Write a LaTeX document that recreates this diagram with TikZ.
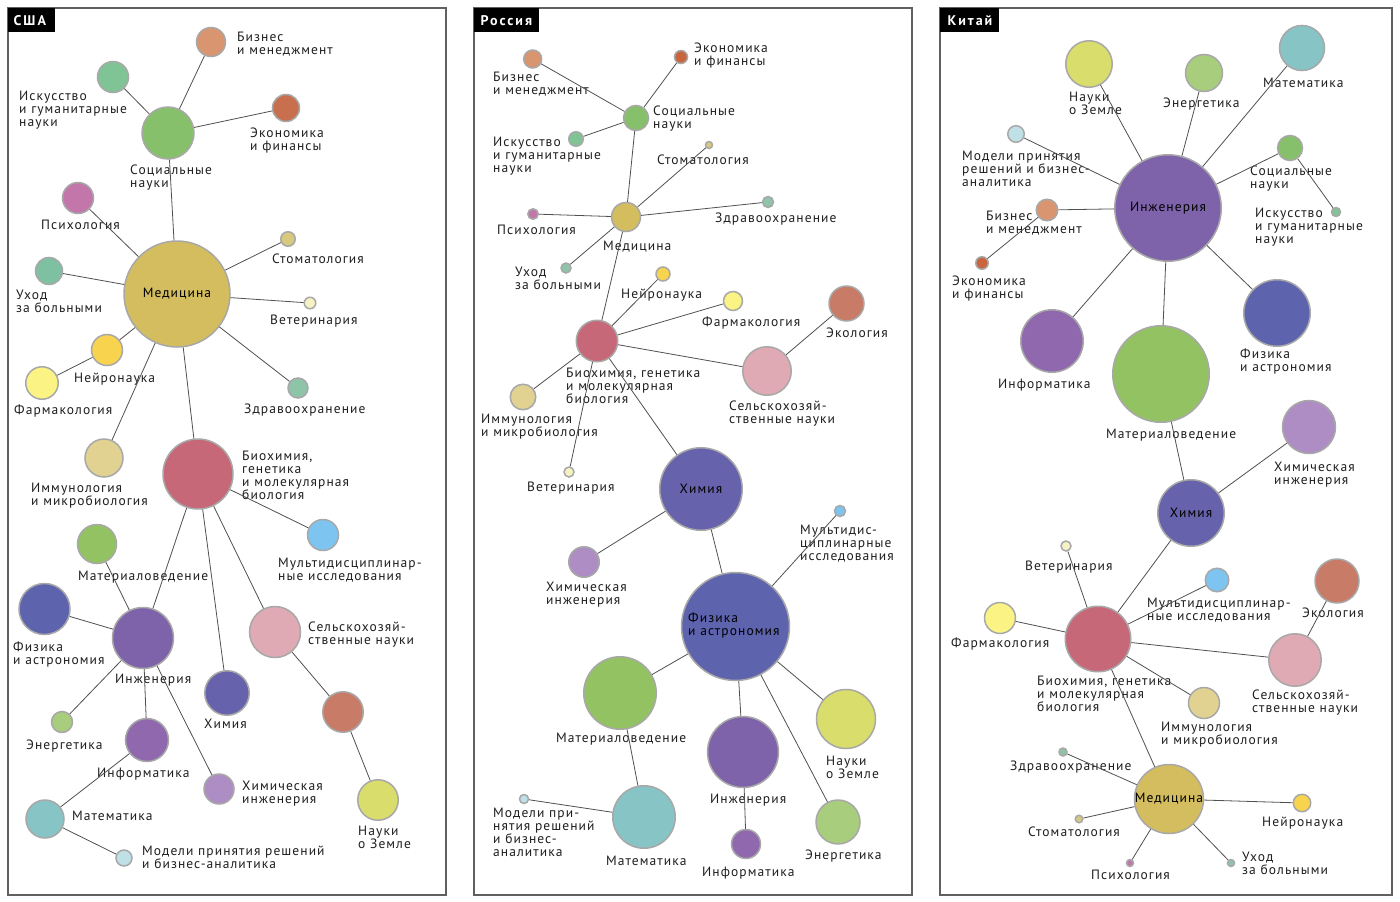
\documentclass[tikz,border=0pt]{standalone}
\usepackage{fontspec}
\setmainfont{PT Sans}[LetterSpace=8]
\definecolor{cBiz}{HTML}{D99470}
\definecolor{cArt}{HTML}{80C394}
\definecolor{cSoc}{HTML}{86C06A}
\definecolor{cEco}{HTML}{C8704E}
\definecolor{cEcoS}{HTML}{C8643E}
\definecolor{cPsy}{HTML}{C276AA}
\definecolor{cMed}{HTML}{D3BD5F}
\definecolor{cDen}{HTML}{D8C97E}
\definecolor{cNur}{HTML}{7DC0A2}
\definecolor{cVet}{HTML}{F6F2C4}
\definecolor{cNeu}{HTML}{F7D34E}
\definecolor{cPha}{HTML}{FBF383}
\definecolor{cHea}{HTML}{8EC4A8}
\definecolor{cImm}{HTML}{E1D291}
\definecolor{cBio}{HTML}{C76878}
\definecolor{cMul}{HTML}{7DC4F0}
\definecolor{cMat}{HTML}{93C262}
\definecolor{cPhy}{HTML}{5E63AE}
\definecolor{cEng}{HTML}{7E62AA}
\definecolor{cChe}{HTML}{6662AC}
\definecolor{cAgr}{HTML}{E0AAB4}
\definecolor{cEcl}{HTML}{C87B66}
\definecolor{cEar}{HTML}{D8DD6B}
\definecolor{cEne}{HTML}{A8CD7C}
\definecolor{cInf}{HTML}{9068AE}
\definecolor{cCen}{HTML}{AE8CC4}
\definecolor{cMth}{HTML}{87C4C6}
\definecolor{cDec}{HTML}{C0E0E8}
\definecolor{cRim}{HTML}{A8A8A8}
\definecolor{cEdge}{HTML}{505050}
\definecolor{cFrame}{HTML}{606060}
\definecolor{cText}{HTML}{1E1E1E}
\begin{document}
\begin{tikzpicture}[x=1pt,y=-1pt,
  bub/.style 2 args={circle,draw=cRim,line width=1.5pt,fill=#1,minimum size=#2,inner sep=0pt},
  edge/.style={draw=cEdge,line width=0.8pt},
  lab/.style={anchor=base west,align=left,inner sep=0pt,text=cText,font=\fontsize{13.5}{13}\selectfont},
  inlab/.style={anchor=center,align=center,inner sep=0pt,text=black,font=\fontsize{13.5}{13}\selectfont},
  frame/.style={draw=cFrame,line width=1.2pt},
  tab/.style={fill=black},
  tabtext/.style={anchor=base west,inner sep=0pt,text=white,font=\bfseries\fontsize{14}{14}\selectfont\addfontfeature{LetterSpace=14}}]
\useasboundingbox (0,0) rectangle (1400,902);
\fill[white] (0,0) rectangle (1400,902);
% frames
\draw[frame] (8,8) rectangle (446,895);
\draw[frame] (474,8) rectangle (912,895);
\draw[frame] (940,8) rectangle (1392,895);
\fill[tab] (8,8) rectangle (55,32);
\fill[tab] (474,8) rectangle (539,32);
\fill[tab] (940,8) rectangle (999,32);
\node[tabtext] (t-a) at (13.5,25) {США};
\node[tabtext] (t-b) at (480.5,25) {Россия};
\node[tabtext] (t-c) at (947.5,25) {Китай};

% ===== Panel 1 labels =====
\node[lab] (la-biz) at (237,54.5) {Бизнес\\и менеджмент};
\node[lab] (la-art) at (19,126.5) {Искусство\\и гуманитарные\\науки};
\node[lab] (la-soc) at (130,187.5) {Социальные\\науки};
\node[lab] (la-eco) at (250,150.5) {Экономика\\и финансы};
\node[lab] (la-psy) at (41,229.5) {Психология};
\node[lab] (la-den) at (272,263.5) {Стоматология};
\node[lab] (la-nur) at (16,312.5) {Уход\\за больными};
\node[lab] (la-vet) at (270,324.5) {Ветеринария};
\node[lab] (la-neu) at (74,382.5) {Нейронаука};
\node[lab] (la-pha) at (14,414.5) {Фармакология};
\node[lab] (la-hea) at (244,413.5) {Здравоохранение};
\node[lab] (la-imm) at (31,505.5) {Иммунология\\и микробиология};
\node[lab] (la-bio) at (242,499.5) {Биохимия,\\генетика\\и молекулярная\\биология};
\node[lab] (la-mul) at (278,580.5) {Мультидисциплинар-\\ные исследования};
\node[lab] (la-mat) at (78,580.5) {Материаловедение};
\node[lab] (la-phy) at (13,664.5) {Физика\\и астрономия};
\node[lab] (la-eng) at (115,683.5) {Инженерия};
\node[lab] (la-che) at (204,728.5) {Химия};
\node[lab] (la-agr) at (308,644.5) {Сельскохозяй-\\ственные науки};
\node[lab] (la-ear) at (358,848.5) {Науки\\о Земле};
\node[lab] (la-ene) at (26,749.5) {Энергетика};
\node[lab] (la-inf) at (97,777.5) {Информатика};
\node[lab] (la-cen) at (242,803.5) {Химическая\\инженерия};
\node[lab] (la-mth) at (72,820.5) {Математика};
\node[lab] (la-dec) at (142,868.5) {Модели принятия решений\\и бизнес-аналитика};

% ===== Panel 2 labels =====
\node[lab] (lb-biz) at (493,94.5) {Бизнес\\и менеджмент};
\node[lab] (lb-eco) at (694,65.5) {Экономика\\и финансы};
\node[lab] (lb-soc) at (653,128.5) {Социальные\\науки};
\node[lab] (lb-art) at (493,172.5) {Искусство\\и гуманитарные\\науки};
\node[lab] (lb-den) at (657,164.5) {Стоматология};
\node[lab] (lb-med) at (603,250.5) {Медицина};
\node[lab] (lb-psy) at (497,234.5) {Психология};
\node[lab] (lb-hea) at (715,222.5) {Здравоохранение};
\node[lab] (lb-nur) at (515,289.5) {Уход\\за больными};
\node[lab] (lb-neu) at (621,298.5) {Нейронаука};
\node[lab] (lb-pha) at (702,326.5) {Фармакология};
\node[lab] (lb-ecl) at (826,337.5) {Экология};
\node[lab] (lb-bio) at (566,403.5) {Биохимия, генетика\\и молекулярная\\биология};
\node[lab] (lb-imm) at (481,436.5) {Иммунология\\и микробиология};
\node[lab] (lb-agr) at (729,423.5) {Сельскохозяй-\\ственные науки};
\node[lab] (lb-vet) at (527,491.5) {Ветеринария};
\node[lab] (lb-mul) at (800,560.5) {Мультидис-\\циплинарные\\исследования};
\node[lab] (lb-cen) at (546,604.5) {Химическая\\инженерия};
\node[lab] (lb-mat) at (556,742.5) {Материаловедение};
\node[lab] (lb-eng) at (710,803.5) {Инженерия};
\node[lab] (lb-ear) at (826,778.5) {Науки\\о Земле};
\node[lab] (lb-mth) at (606,865.5) {Математика};
\node[lab] (lb-dec) at (493,856.5) {Модели при-\\нятия решений\\и бизнес-\\аналитика};
\node[lab] (lb-inf) at (702,876.5) {Информатика};
\node[lab] (lb-ene) at (805,859.5) {Энергетика};

% ===== Panel 3 labels =====
\node[lab] (lc-ear) at (1069,114.5) {Науки\\о Земле};
\node[lab] (lc-ene) at (1163,107.5) {Энергетика};
\node[lab] (lc-mth) at (1263,87.5) {Математика};
\node[lab] (lc-dec) at (962,186.5) {Модели принятия\\решений и бизнес-\\аналитика};
\node[lab] (lc-soc) at (1250,188.5) {Социальные\\науки};
\node[lab] (lc-art) at (1255,243.5) {Искусство\\и гуманитарные\\науки};
\node[lab] (lc-biz) at (986,233.5) {Бизнес\\и менеджмент};
\node[lab] (lc-eco) at (952,298.5) {Экономика\\и финансы};
\node[lab] (lc-inf) at (998,388.5) {Информатика};
\node[lab] (lc-mat) at (1106,438.5) {Материаловедение};
\node[lab] (lc-phy) at (1240,371.5) {Физика\\и астрономия};
\node[lab] (lc-cen) at (1274,484.5) {Химическая\\инженерия};
\node[lab] (lc-vet) at (1025,570.5) {Ветеринария};
\node[lab] (lc-mul) at (1147,620.5) {Мультидисциплинар-\\ные исследования};
\node[lab] (lc-ecl) at (1302,617.5) {Экология};
\node[lab] (lc-pha) at (951,647.5) {Фармакология};
\node[lab] (lc-bio) at (1037,711.5) {Биохимия, генетика\\и молекулярная\\биология};
\node[lab] (lc-agr) at (1252,712.5) {Сельскохозяй-\\ственные науки};
\node[lab] (lc-imm) at (1161,744.5) {Иммунология\\и микробиология};
\node[lab] (lc-hea) at (1010,770.5) {Здравоохранение};
\node[lab] (lc-neu) at (1262,826.5) {Нейронаука};
\node[lab] (lc-den) at (1028,836.5) {Стоматология};
\node[lab] (lc-psy) at (1091,879.5) {Психология};
\node[lab] (lc-nur) at (1242,874.5) {Уход\\за больными};

% ===== Panel 1 bubbles =====
\node[bub={cBiz}{29pt}] (a-biz) at (211,42) {};
\node[bub={cArt}{31pt}] (a-art) at (113,77) {};
\node[bub={cSoc}{52pt}] (a-soc) at (168,133) {};
\node[bub={cEco}{27pt}] (a-eco) at (286,108) {};
\node[bub={cPsy}{31pt}] (a-psy) at (78,198) {};
\node[bub={cMed}{106pt}] (a-med) at (177,294) {};
\node[bub={cDen}{14.5pt}] (a-den) at (288,239) {};
\node[bub={cNur}{27pt}] (a-nur) at (49,271) {};
\node[bub={cVet}{11.5pt}] (a-vet) at (310,303) {};
\node[bub={cNeu}{31pt}] (a-neu) at (107,350) {};
\node[bub={cPha}{32.5pt}] (a-pha) at (42,383) {};
\node[bub={cHea}{20pt}] (a-hea) at (298,388) {};
\node[bub={cImm}{38pt}] (a-imm) at (104,458) {};
\node[bub={cBio}{70pt}] (a-bio) at (198,474) {};
\node[bub={cMul}{31pt}] (a-mul) at (323,535) {};
\node[bub={cMat}{39pt}] (a-mat) at (97,544) {};
\node[bub={cPhy}{51pt}] (a-phy) at (44.5,609) {};
\node[bub={cEng}{61pt}] (a-eng) at (143,638) {};
\node[bub={cChe}{44.5pt}] (a-che) at (227,693) {};
\node[bub={cAgr}{51pt}] (a-agr) at (275,632) {};
\node[bub={cEcl}{40.5pt}] (a-ecl) at (343,712) {};
\node[bub={cEar}{40.5pt}] (a-ear) at (378,800) {};
\node[bub={cEne}{21pt}] (a-ene) at (62,722) {};
\node[bub={cInf}{43pt}] (a-inf) at (147,740) {};
\node[bub={cCen}{30pt}] (a-cen) at (219,789) {};
\node[bub={cMth}{38pt}] (a-mth) at (45,819) {};
\node[bub={cDec}{16pt}] (a-dec) at (124,858) {};
\node[inlab] (la-med) at (a-med) {Медицина};

% ===== Panel 2 bubbles =====
\node[bub={cBiz}{18pt}] (b-biz) at (532.7,59) {};
\node[bub={cEcoS}{13pt}] (b-eco) at (681,57) {};
\node[bub={cSoc}{25pt}] (b-soc) at (636,118) {};
\node[bub={cArt}{14.5pt}] (b-art) at (576,139) {};
\node[bub={cDen}{7pt}] (b-den) at (709,145) {};
\node[bub={cMed}{29pt}] (b-med) at (626,217) {};
\node[bub={cPsy}{10.5pt}] (b-psy) at (533,214) {};
\node[bub={cHea}{11pt}] (b-hea) at (768,202) {};
\node[bub={cHea}{10pt}] (b-nur) at (566,268) {};
\node[bub={cNeu}{14pt}] (b-neu) at (663,274) {};
\node[bub={cPha}{19pt}] (b-pha) at (733,301) {};
\node[bub={cEcl}{35pt}] (b-ecl) at (846.5,303.5) {};
\node[bub={cBio}{41.5pt}] (b-bio) at (597,341) {};
\node[bub={cImm}{25.5pt}] (b-imm) at (523,397) {};
\node[bub={cAgr}{48.5pt}] (b-agr) at (767,371) {};
\node[bub={cVet}{10pt}] (b-vet) at (569,472) {};
\node[bub={cChe}{82.5pt}] (b-che) at (701,489) {};
\node[bub={cMul}{11pt}] (b-mul) at (840,511) {};
\node[bub={cCen}{30.5pt}] (b-cen) at (584,562) {};
\node[bub={cPhy}{108pt}] (b-phy) at (735.5,626.5) {};
\node[bub={cMat}{72.5pt}] (b-mat) at (620,693) {};
\node[bub={cEng}{71pt}] (b-eng) at (743,752) {};
\node[bub={cEar}{59pt}] (b-ear) at (846,719) {};
\node[bub={cMth}{62.5pt}] (b-mth) at (644,817) {};
\node[bub={cDec}{9pt}] (b-dec) at (524,799) {};
\node[bub={cInf}{29pt}] (b-inf) at (746,844) {};
\node[bub={cEne}{44pt}] (b-ene) at (838,822) {};
\node[inlab] (lb-che) at (b-che) {Химия};
\node[lab,text=black] (lb-phy) at (688,635.5) {Физика\\и астрономия};

% ===== Panel 3 bubbles =====
\node[bub={cEar}{46.5pt}] (c-ear) at (1089,64) {};
\node[bub={cEne}{37pt}] (c-ene) at (1204,73) {};
\node[bub={cMth}{45pt}] (c-mth) at (1302,48) {};
\node[bub={cDec}{16.5pt}] (c-dec) at (1016,134) {};
\node[bub={cSoc}{25pt}] (c-soc) at (1290,148) {};
\node[bub={cArt}{9pt}] (c-art) at (1336,212) {};
\node[bub={cEng}{106.5pt}] (c-eng) at (1168,208) {};
\node[bub={cBiz}{21.5pt}] (c-biz) at (1047,210) {};
\node[bub={cEcoS}{12.5pt}] (c-eco) at (982,263) {};
\node[bub={cInf}{62.5pt}] (c-inf) at (1052,341) {};
\node[bub={cMat}{96.5pt}] (c-mat) at (1161,374) {};
\node[bub={cPhy}{66.5pt}] (c-phy) at (1277,313) {};
\node[bub={cCen}{53pt}] (c-cen) at (1309,427) {};
\node[bub={cChe}{66.5pt}] (c-che) at (1191,513) {};
\node[bub={cVet}{10pt}] (c-vet) at (1066,546) {};
\node[bub={cMul}{23.5pt}] (c-mul) at (1217,580) {};
\node[bub={cEcl}{44pt}] (c-ecl) at (1337,581) {};
\node[bub={cPha}{31pt}] (c-pha) at (1000,618) {};
\node[bub={cBio}{65.5pt}] (c-bio) at (1098,639) {};
\node[bub={cAgr}{52.5pt}] (c-agr) at (1295,660) {};
\node[bub={cImm}{31pt}] (c-imm) at (1204,703) {};
\node[bub={cHea}{8pt}] (c-hea) at (1063,752) {};
\node[bub={cMed}{69pt}] (c-med) at (1169,799) {};
\node[bub={cNeu}{17.5pt}] (c-neu) at (1302,803) {};
\node[bub={cDen}{7.5pt}] (c-den) at (1079,819) {};
\node[bub={cPsy}{7pt}] (c-psy) at (1130,863) {};
\node[bub={cHea}{7pt}] (c-nur) at (1231,863) {};
\node[inlab] (lc-eng) at (c-eng) {Инженерия};
\node[inlab] (lc-che) at (c-che) {Химия};
\node[inlab] (lc-med) at (c-med) {Медицина};

% ===== Panel 1 edges =====
\draw[edge] (a-soc) -- (a-biz);
\draw[edge] (a-soc) -- (a-art);
\draw[edge] (a-soc) -- (a-eco);
\draw[edge] (a-soc) -- (a-med);
\draw[edge] (a-med) -- (a-psy);
\draw[edge] (a-med) -- (a-den);
\draw[edge] (a-med) -- (a-nur);
\draw[edge] (a-med) -- (a-vet);
\draw[edge] (a-med) -- (a-neu);
\draw[edge] (a-neu) -- (a-pha);
\draw[edge] (a-med) -- (a-hea);
\draw[edge] (a-med) -- (a-imm);
\draw[edge] (a-med) -- (a-bio);
\draw[edge] (a-bio) -- (a-mul);
\draw[edge] (a-bio) -- (a-eng);
\draw[edge] (a-bio) -- (a-che);
\draw[edge] (a-bio) -- (a-agr);
\draw[edge] (a-agr) -- (a-ecl);
\draw[edge] (a-ecl) -- (a-ear);
\draw[edge] (a-eng) -- (a-mat);
\draw[edge] (a-eng) -- (a-phy);
\draw[edge] (a-eng) -- (a-ene);
\draw[edge] (a-eng) -- (a-inf);
\draw[edge] (a-eng) -- (a-cen);
\draw[edge] (a-inf) -- (a-mth);
\draw[edge] (a-mth) -- (a-dec);

% ===== Panel 2 edges =====
\draw[edge] (b-soc) -- (b-biz);
\draw[edge] (b-soc) -- (b-eco);
\draw[edge] (b-soc) -- (b-art);
\draw[edge] (b-soc) -- (b-med);
\draw[edge] (b-med) -- (b-den);
\draw[edge] (b-med) -- (b-psy);
\draw[edge] (b-med) -- (b-hea);
\draw[edge] (b-med) -- (b-nur);
\draw[edge] (b-med) -- (b-bio);
\draw[edge] (b-bio) -- (b-neu);
\draw[edge] (b-bio) -- (b-pha);
\draw[edge] (b-bio) -- (b-agr);
\draw[edge] (b-agr) -- (b-ecl);
\draw[edge] (b-bio) -- (b-imm);
\draw[edge] (b-bio) -- (b-vet);
\draw[edge] (b-bio) -- (b-che);
\draw[edge] (b-che) -- (b-cen);
\draw[edge] (b-che) -- (b-phy);
\draw[edge] (b-phy) -- (b-mul);
\draw[edge] (b-phy) -- (b-mat);
\draw[edge] (b-phy) -- (b-eng);
\draw[edge] (b-phy) -- (b-ear);
\draw[edge] (b-phy) -- (b-ene);
\draw[edge] (b-mat) -- (b-mth);
\draw[edge] (b-mth) -- (b-dec);
\draw[edge] (b-eng) -- (b-inf);

% ===== Panel 3 edges =====
\draw[edge] (c-eng) -- (c-ear);
\draw[edge] (c-eng) -- (c-ene);
\draw[edge] (c-eng) -- (c-mth);
\draw[edge] (c-eng) -- (c-dec);
\draw[edge] (c-eng) -- (c-soc);
\draw[edge] (c-soc) -- (c-art);
\draw[edge] (c-eng) -- (c-biz);
\draw[edge] (c-biz) -- (c-eco);
\draw[edge] (c-eng) -- (c-inf);
\draw[edge] (c-eng) -- (c-mat);
\draw[edge] (c-eng) -- (c-phy);
\draw[edge] (c-mat) -- (c-che);
\draw[edge] (c-che) -- (c-cen);
\draw[edge] (c-che) -- (c-bio);
\draw[edge] (c-bio) -- (c-vet);
\draw[edge] (c-bio) -- (c-mul);
\draw[edge] (c-bio) -- (c-pha);
\draw[edge] (c-bio) -- (c-agr);
\draw[edge] (c-agr) -- (c-ecl);
\draw[edge] (c-bio) -- (c-imm);
\draw[edge] (c-bio) -- (c-med);
\draw[edge] (c-med) -- (c-hea);
\draw[edge] (c-med) -- (c-den);
\draw[edge] (c-med) -- (c-psy);
\draw[edge] (c-med) -- (c-nur);
\draw[edge] (c-med) -- (c-neu);
\end{tikzpicture}
\end{document}
